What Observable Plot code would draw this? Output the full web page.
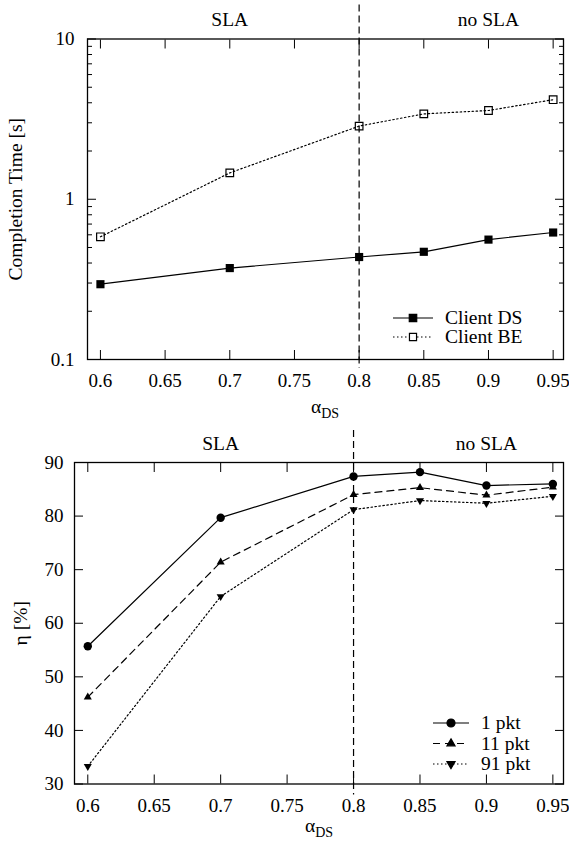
<!DOCTYPE html>
<html>
<head>
<meta charset="utf-8">
<script src="https://cdn.jsdelivr.net/npm/d3@7"></script>
<script src="https://cdn.jsdelivr.net/npm/@observablehq/plot@0.6"></script>
<style>
  body { margin: 0; background: #fff; }
  #root { position: relative; width: 569px; height: 849px; font-family: "Liberation Serif", "Times New Roman", Times, "DejaVu Serif", serif; color: #000; }
  #root svg { position: absolute; left: 0; overflow: visible; }
  #root svg text { font-family: "Liberation Serif", "Times New Roman", Times, "DejaVu Serif", serif; }
  .xlabel { position: absolute; font-size: 19.5px; line-height: 1; white-space: nowrap; transform: translateX(-50%); }
  .xlabel sub { font-size: 14px; vertical-align: -5px; line-height: 0; }
</style>
</head>
<body>
<div id="root"></div>
<script>
// ---------------- data ----------------
const alphaDS = [0.6, 0.7, 0.8, 0.85, 0.9, 0.95];
const clientDS = [0.295, 0.372, 0.436, 0.47, 0.56, 0.62];
const clientBE = [0.583, 1.46, 2.86, 3.41, 3.58, 4.18];
const eta1pkt = [55.7, 79.7, 87.4, 88.2, 85.7, 86.0];
const eta11pkt = [46.2, 71.4, 84.0, 85.3, 83.9, 85.4];
const eta91pkt = [33.3, 65.0, 81.2, 82.9, 82.4, 83.7];

const xTicks = [0.6, 0.65, 0.7, 0.75, 0.8, 0.85, 0.9, 0.95];
const xTickLabels = ["0.6", "0.65", "0.7", "0.75", "0.8", "0.85", "0.9", "0.95"];
const topYTicks = [0.1, 1, 10];
const topYTickLabels = ["0.1", "1", "10"];
const topYMinor = [0.2, 0.3, 0.4, 0.5, 0.6, 0.7, 0.8, 0.9, 2, 3, 4, 5, 6, 7, 8, 9];
const botYTicks = [30, 40, 50, 60, 70, 80, 90];
const botYTickLabels = ["30", "40", "50", "60", "70", "80", "90"];

const regionX = [0.7, 0.9];
const regionLabels = ["SLA", "no SLA"];
const boundaryX = [0.8];

const topSeriesNames = ["Client DS", "Client BE"];
const botSeriesNames = ["1 pkt", "11 pkt", "91 pkt"];

// ---------------- helpers ----------------
const FONT = '"Liberation Serif", "Times New Roman", Times, "DejaVu Serif", serif';
const table = (ys) => alphaDS.map((x, i) => ({x, y: ys[i]}));
const fmt = (ticks, labels) => (d) => labels[ticks.indexOf(d)];
const blank = () => "";

function frameAxes({yTicks, yTickLabels, yMinor, yPad}) {
  const marks = [
    Plot.axisX(xTicks, {anchor: "bottom", tickSize: -9, tickFormat: blank, label: null}),
    Plot.axisX(xTicks, {anchor: "top", tickSize: -9, tickFormat: blank, label: null}),
    Plot.axisX(xTicks, {anchor: "bottom", tickSize: 0, tickPadding: 14, tickFormat: fmt(xTicks, xTickLabels), label: null}),
    Plot.axisY(yTicks, {anchor: "left", tickSize: -9, tickFormat: blank, label: null}),
    Plot.axisY(yTicks, {anchor: "right", tickSize: -9, tickFormat: blank, label: null}),
    Plot.axisY(yTicks, {anchor: "left", tickSize: 0, tickPadding: yPad, tickFormat: fmt(yTicks, yTickLabels), label: null})
  ];
  if (yMinor) {
    marks.push(Plot.axisY(yMinor, {anchor: "left", tickSize: -5, tickFormat: blank, label: null}));
    marks.push(Plot.axisY(yMinor, {anchor: "right", tickSize: -5, tickFormat: blank, label: null}));
  }
  return marks;
}

function drawLegend(svg, entries, o) {
  const g = d3.select(svg).append("g")
    .attr("font-family", FONT).attr("font-size", o.fontSize).attr("fill", "black")
    .attr("text-anchor", "start");
  entries.forEach((e, i) => {
    const y = o.y0 + i * o.rowH;
    g.append("line")
      .attr("x1", o.lineX0).attr("x2", o.lineX1).attr("y1", y).attr("y2", y)
      .attr("stroke", "black").attr("stroke-width", 1.2)
      .attr("stroke-dasharray", e.dash || null);
    g.append("path")
      .attr("d", d3.symbol(e.symbol, Math.PI * e.r * e.r)())
      .attr("transform", `translate(${(o.lineX0 + o.lineX1) / 2},${y}) rotate(${e.rotate || 0})`)
      .attr("fill", e.fill).attr("stroke", "black").attr("stroke-width", 1.2);
    g.append("text").attr("x", o.textX).attr("y", y).attr("dy", "0.32em")
      .attr("text-anchor", "start").text(e.label);
  });
}

const root = document.getElementById("root");
const baseStyle = {fontFamily: FONT, fontSize: "19px", background: "transparent", color: "black", overflow: "visible"};

// ---------------- top chart ----------------
const DOT = "1.5,2.5";
const topPlot = Plot.plot({
  width: 569, height: 395,
  marginTop: 38.5, marginBottom: 36, marginLeft: 87, marginRight: 6,
  style: baseStyle,
  x: {domain: [0.59, 0.958]},
  y: {type: "log", domain: [0.1, 10]},
  marks: [
    ...frameAxes({yTicks: topYTicks, yTickLabels: topYTickLabels, yMinor: topYMinor, yPad: 13}),
    Plot.ruleX(boundaryX, {stroke: "black", strokeWidth: 1.2, strokeDasharray: "7,4", insetTop: -34, insetBottom: -9}),
    Plot.line(table(clientBE), {x: "x", y: "y", stroke: "black", strokeWidth: 1.2, strokeDasharray: DOT}),
    Plot.line(table(clientDS), {x: "x", y: "y", stroke: "black", strokeWidth: 1.2}),
    Plot.dot(table(clientBE), {x: "x", y: "y", symbol: "square", r: 4.3, fill: "none", stroke: "black", strokeWidth: 1.2}),
    Plot.dot(table(clientDS), {x: "x", y: "y", symbol: "square", r: 4.6, fill: "black", stroke: "none"}),
    Plot.text(regionX, {x: (d) => d, text: (d, i) => regionLabels[i], frameAnchor: "top", textAnchor: "middle", lineAnchor: "bottom", dy: -13, fontSize: 19.5}),
    Plot.text(["Completion Time [s]"], {frameAnchor: "left", textAnchor: "middle", lineAnchor: "middle", rotate: -90, dx: -72, fontSize: 19.5}),
    Plot.frame({stroke: "black", strokeWidth: 1.3})
  ]
});
topPlot.style.top = "0px";
root.appendChild(topPlot);
drawLegend(topPlot, [
  {label: topSeriesNames[0], symbol: d3.symbolSquare, r: 4.2, fill: "black"},
  {label: topSeriesNames[1], symbol: d3.symbolSquare, r: 4.0, fill: "white", dash: DOT}
], {y0: 318, rowH: 19, lineX0: 393, lineX1: 433, textX: 445, fontSize: 19.5});

const lab1 = document.createElement("div");
lab1.className = "xlabel";
lab1.style.left = "325px"; lab1.style.top = "397px";
lab1.innerHTML = "α<sub>DS</sub>";
root.appendChild(lab1);

// ---------------- bottom chart ----------------
const botTop = 425;
const botPlot = Plot.plot({
  width: 569, height: 395,
  marginTop: 37, marginBottom: 36.5, marginLeft: 74, marginRight: 6,
  style: baseStyle,
  x: {domain: [0.59, 0.958]},
  y: {domain: [30, 90]},
  marks: [
    ...frameAxes({yTicks: botYTicks, yTickLabels: botYTickLabels, yPad: 11}),
    Plot.ruleX(boundaryX, {stroke: "black", strokeWidth: 1.2, strokeDasharray: "7,4", insetTop: -32, insetBottom: -11}),
    Plot.line(table(eta91pkt), {x: "x", y: "y", stroke: "black", strokeWidth: 1.2, strokeDasharray: DOT}),
    Plot.line(table(eta11pkt), {x: "x", y: "y", stroke: "black", strokeWidth: 1.2, strokeDasharray: "7,5"}),
    Plot.line(table(eta1pkt), {x: "x", y: "y", stroke: "black", strokeWidth: 1.2}),
    Plot.dot(table(eta1pkt), {x: "x", y: "y", symbol: "circle", r: 4.2, fill: "black", stroke: "none"}),
    Plot.dot(table(eta11pkt), {x: "x", y: "y", symbol: "triangle", r: 3, fill: "black", stroke: "none"}),
    Plot.dot(table(eta91pkt), {x: "x", y: "y", symbol: "triangle", r: 3, rotate: 180, fill: "black", stroke: "none"}),
    Plot.text(regionX, {x: (d) => d, text: (d, i) => regionLabels[i], frameAnchor: "top", textAnchor: "middle", lineAnchor: "bottom", dy: -13, fontSize: 19.5}),
    Plot.text(["η [%]"], {frameAnchor: "left", textAnchor: "middle", lineAnchor: "middle", rotate: -90, dx: -54, fontSize: 19.5}),
    Plot.frame({stroke: "black", strokeWidth: 1.3})
  ]
});
botPlot.style.top = botTop + "px";
root.appendChild(botPlot);
drawLegend(botPlot, [
  {label: botSeriesNames[0], symbol: d3.symbolCircle, r: 4.0, fill: "black"},
  {label: botSeriesNames[1], symbol: d3.symbolTriangle, r: 3, fill: "black", dash: "7,5"},
  {label: botSeriesNames[2], symbol: d3.symbolTriangle, r: 3, fill: "black", rotate: 180, dash: DOT}
], {y0: 298, rowH: 20.5, lineX0: 433, lineX1: 469, textX: 481, fontSize: 19.5});

const lab2 = document.createElement("div");
lab2.className = "xlabel";
lab2.style.left = "319px"; lab2.style.top = "816px";
lab2.innerHTML = "α<sub>DS</sub>";
root.appendChild(lab2);
</script>
</body>
</html>
